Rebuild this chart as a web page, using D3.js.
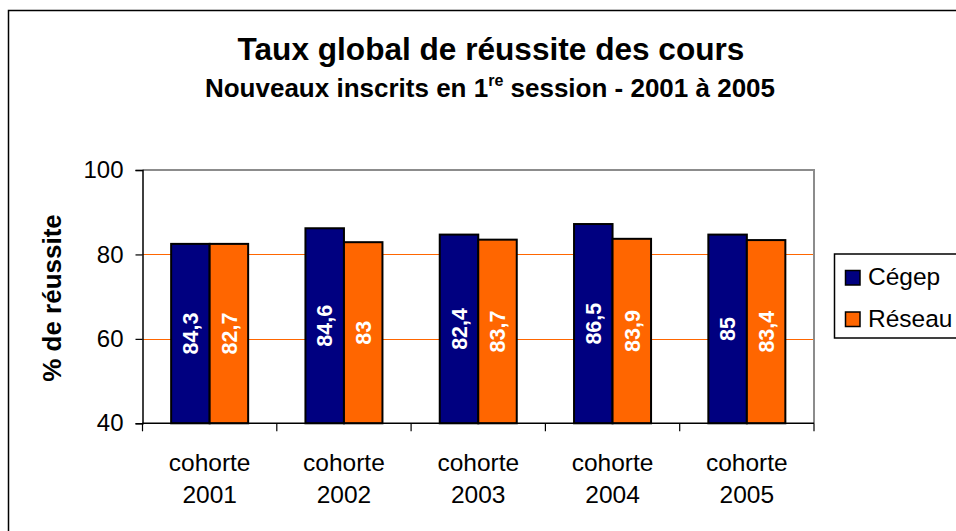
<!DOCTYPE html>
<html>
<head>
<meta charset="utf-8">
<script src="https://cdn.jsdelivr.net/npm/d3@7"></script>
<style>
  html, body { margin: 0; padding: 0; background: #fff; overflow: hidden; }
  svg { display: block; font-family: "Liberation Sans", Arial, sans-serif; }
</style>
</head>
<body>
<svg id="chart" width="956" height="531"></svg>
<script>
// ---- Data ----
const categories = ["2001", "2002", "2003", "2004", "2005"];
const categoryPrefix = "cohorte";
const seriesNames = ["Cégep", "Réseau"];
const cegepValues = [82.5, 86.2, 84.7, 87.2, 84.7];
const reseauValues = [82.5, 82.9, 83.5, 83.7, 83.4];
const cegepLabels = ["84,3", "84,6", "82,4", "86,5", "85"];
const reseauLabels = ["82,7", "83", "83,7", "83,9", "83,4"];
const yTicks = [40, 60, 80, 100];
const gridValues = [60, 80];
const colors = ["#000080", "#FF6600"];

const titleText = "Taux global de réussite des cours";
const yTitle = "% de réussite";

// ---- Layout ----
const svg = d3.select("#chart");
const plot = { left: 142.5, right: 814, top: 170, bottom: 423.3 };

// outer chart border (top & left visible)
svg.append("rect")
  .attr("x", 8.5).attr("y", 10.5)
  .attr("width", 1200).attr("height", 800)
  .attr("fill", "none").attr("stroke", "#000").attr("stroke-width", 1.5);

const y = d3.scaleLinear().domain([40, 100]).range([plot.bottom, plot.top]);
const x0 = d3.scaleBand().domain(categories).range([plot.left, plot.right]).padding(0);
const x1 = d3.scaleBand().domain(seriesNames).range([0, x0.bandwidth()])
  .paddingInner(0).paddingOuter(0.744);

// gridlines
svg.append("g").selectAll("line").data(gridValues).join("line")
  .attr("x1", plot.left).attr("x2", plot.right)
  .attr("y1", d => Math.round(y(d)) + 0.5).attr("y2", d => Math.round(y(d)) + 0.5)
  .attr("stroke", "#FF6600").attr("stroke-width", 1);

// plot border top & right (gray)
svg.append("path")
  .attr("d", `M${plot.left},${plot.top} H${plot.right} V${plot.bottom}`)
  .attr("fill", "none").attr("stroke", "#8c8c8c").attr("stroke-width", 2);

// bars
const rows = categories.map((c, i) => ({
  cat: c,
  items: [
    { s: seriesNames[0], v: cegepValues[i], lab: cegepLabels[i], color: colors[0] },
    { s: seriesNames[1], v: reseauValues[i], lab: reseauLabels[i], color: colors[1] }
  ]
}));

const groups = svg.append("g").selectAll("g").data(rows).join("g")
  .attr("transform", d => `translate(${x0(d.cat)},0)`);

groups.selectAll("rect").data(d => d.items).join("rect")
  .attr("x", d => x1(d.s))
  .attr("y", d => y(d.v))
  .attr("width", x1.bandwidth())
  .attr("height", d => y(40) - y(d.v))
  .attr("fill", d => d.color)
  .attr("stroke", "#000").attr("stroke-width", 2);

groups.selectAll("text").data(d => d.items).join("text")
  .attr("transform", d => {
    const cx = x1(d.s) + x1.bandwidth() / 2;
    const cy = (y(d.v) + y(40)) / 2;
    return `translate(${cx},${cy}) rotate(-90)`;
  })
  .attr("text-anchor", "middle")
  .attr("dy", "0.36em")
  .attr("fill", "#fff")
  .attr("font-weight", "bold")
  .attr("font-size", 21.5)
  .text(d => d.lab);

// y axis
const yAxis = d3.axisLeft(y).tickValues(yTicks).tickSize(7).tickPadding(12);
const yg = svg.append("g").attr("transform", `translate(${plot.left},0)`).call(yAxis);
yg.select(".domain").attr("stroke", "#000").attr("stroke-width", 1.5);
yg.selectAll(".tick line").attr("stroke", "#000").attr("stroke-width", 1.2);
yg.selectAll(".tick text").attr("font-size", 24).attr("fill", "#000")
  .attr("font-family", "Liberation Sans, Arial, sans-serif");

// x axis
const xg = svg.append("g").attr("transform", `translate(0,${plot.bottom})`);
xg.append("line").attr("x1", plot.left).attr("x2", plot.right)
  .attr("y1", 0).attr("y2", 0).attr("stroke", "#000").attr("stroke-width", 1.5);
const boundaries = categories.map(c => x0(c)).concat([x0(categories[categories.length - 1]) + x0.bandwidth()]);
xg.selectAll("line.tk").data(boundaries).join("line").attr("class", "tk")
  .attr("x1", d => d).attr("x2", d => d).attr("y1", 0).attr("y2", 8)
  .attr("stroke", "#000").attr("stroke-width", 1.2);
const xl = xg.selectAll("text").data(categories).join("text")
  .attr("text-anchor", "middle")
  .attr("font-size", 24.5).attr("fill", "#000");
xl.append("tspan").attr("x", d => x0(d) + x0.bandwidth() / 2).attr("y", 48).text(categoryPrefix);
xl.append("tspan").attr("x", d => x0(d) + x0.bandwidth() / 2).attr("y", 79.5).text(d => d);

// y title
svg.append("text")
  .attr("transform", `translate(61,298) rotate(-90)`)
  .attr("text-anchor", "middle")
  .attr("font-weight", "bold").attr("font-size", 26)
  .text(yTitle);

// title
svg.append("text").attr("x", 491).attr("y", 59.5)
  .attr("text-anchor", "middle").attr("font-weight", "bold").attr("font-size", 31.6)
  .text(titleText);

const sub = svg.append("text").attr("x", 490).attr("y", 96.5)
  .attr("text-anchor", "middle").attr("font-weight", "bold").attr("font-size", 26);
sub.append("tspan").text("Nouveaux inscrits en 1");
sub.append("tspan").attr("font-size", 16).attr("dy", -11).text("re");
sub.append("tspan").attr("dy", 11).text(" session - 2001 à 2005");

// legend
const lg = svg.append("g");
lg.append("rect").attr("x", 834.5).attr("y", 254).attr("width", 160).attr("height", 84)
  .attr("fill", "#fff").attr("stroke", "#000").attr("stroke-width", 1.5);
const li = lg.selectAll("g.it").data(seriesNames).join("g").attr("class", "it")
  .attr("transform", (d, i) => `translate(0,${i * 41.5})`);
li.append("rect").attr("x", 845.5).attr("y", 270.5).attr("width", 14.5).attr("height", 14.5)
  .attr("fill", (d, i) => colors[i]).attr("stroke", "#000").attr("stroke-width", 1.5);
li.append("text").attr("x", 868).attr("y", 285).attr("font-size", 24.5).attr("fill", "#000")
  .text(d => d);
</script>
</body>
</html>
